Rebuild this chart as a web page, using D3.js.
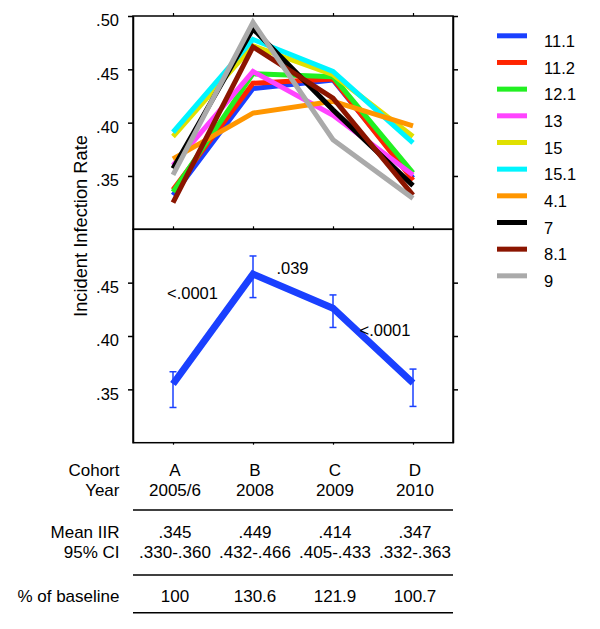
<!DOCTYPE html>
<html><head><meta charset="utf-8">
<script src="https://cdn.jsdelivr.net/npm/d3@7"></script>
<style>
body{margin:0;background:#fff;}
svg{font-family:"Liberation Sans",Arial,sans-serif;}
</style></head>
<body><svg id="c" width="600" height="629"></svg>
<script>
const cohorts = ["A","B","C","D"];
const years = ["2005/6","2008","2009","2010"];
const serotypes = ["11.1","11.2","12.1","13","15","15.1","4.1","7","8.1","9"];
const colors = ["#1a40ff","#ff2400","#22f022","#ff44ff","#e0e000","#00f5ff","#ff9600","#000000","#8b1500","#aaaaaa"];
const v11_1 = [0.332,0.432,0.440,0.348];
const v11_2 = [0.337,0.437,0.441,0.346];
const v12_1 = [0.335,0.446,0.443,0.353];
const v13   = [0.360,0.448,0.407,0.351];
const v15   = [0.387,0.472,0.445,0.387];
const v15_1 = [0.391,0.478,0.448,0.381];
const v4_1  = [0.366,0.409,0.420,0.397];
const v7    = [0.357,0.488,0.412,0.341];
const v8_1  = [0.325,0.471,0.423,0.332];
const v9    = [0.351,0.494,0.384,0.329];
const seriesValues = [v11_1,v11_2,v12_1,v13,v15,v15_1,v4_1,v7,v8_1,v9];
const meanIIR = [0.355,0.458,0.426,0.356];
const ciLow  = [0.333,0.436,0.408,0.334];
const ciHigh = [0.3665,0.475,0.4385,0.369];
const pLabels = ["<.0001",".039","<.0001"];
const topTicks = [0.35,0.40,0.45,0.50];
const botTicks = [0.35,0.40,0.45];
const meanText = [".345",".449",".414",".347"];
const ciText = [".330-.360",".432-.466",".405-.433",".332-.363"];
const pctText = ["100","130.6","121.9","100.7"];

const svg = d3.select("#c");
const X0 = 133, X1 = 453;
const x = d3.scalePoint().domain(cohorts).range([X0,X1]).padding(0.5);
const yT = d3.scaleLinear().domain([0.30,0.50]).range([229.3,16]);
const yB = d3.scaleLinear().domain([0.30,0.50]).range([442.7,229.3]);
const fmt = d => d3.format(".2f")(d).replace(/^0/,"");
const FS = 17;

function frame(y, ticks, top){
  const gl = svg.append("g").attr("transform",`translate(${X0},0)`)
    .call(d3.axisLeft(y).tickValues(ticks).tickSize(5).tickFormat(fmt).tickSizeOuter(0));
  gl.selectAll("text").attr("font-size",16.5).attr("font-family","Liberation Sans, Arial").attr("fill","#000").attr("dy","0.6em").attr("x",-14);
  const gr = svg.append("g").attr("transform",`translate(${X1},0)`)
    .call(d3.axisRight(y).tickValues(ticks).tickSize(5).tickFormat("").tickSizeOuter(0));
  [gl,gr].forEach(g=>{g.selectAll("line,path").attr("stroke","#000").attr("stroke-width",1.5);});
  const gt = svg.append("g").attr("transform",`translate(0,${top})`)
    .call(d3.axisTop(x).tickSize(3).tickFormat("").tickSizeOuter(0));
  gt.select("path").remove();
  gt.selectAll("line").attr("stroke","#000").attr("stroke-width",1.2);
  svg.append("rect").attr("x",X0).attr("y",y.range()[1]).attr("width",X1-X0)
    .attr("height",y.range()[0]-y.range()[1]).attr("fill","none").attr("stroke","#000").attr("stroke-width",1.5);
}
frame(yT, topTicks, 16);
frame(yB, botTicks, 229.3);
const gbx = svg.append("g").attr("transform",`translate(0,442.7)`)
  .call(d3.axisBottom(x).tickSize(2).tickFormat("").tickSizeOuter(0));
gbx.select("path").remove();
gbx.selectAll("line").attr("stroke","#000").attr("stroke-width",1.2);

// top panel lines
const lineT = d3.line().x((d,i)=>x(cohorts[i])).y(d=>yT(d));
seriesValues.forEach((vals,i)=>{
  svg.append("path").attr("d",lineT(vals)).attr("fill","none")
    .attr("stroke",colors[i]).attr("stroke-width",5);
});

// bottom panel
const lineB = d3.line().x((d,i)=>x(cohorts[i])).y(d=>yB(d));
const blue = "#1a40ff";
cohorts.forEach((c,i)=>{
  const cx = x(c);
  svg.append("line").attr("x1",cx).attr("x2",cx).attr("y1",yB(ciLow[i])).attr("y2",yB(ciHigh[i])).attr("stroke",blue).attr("stroke-width",1.5);
  [ciLow[i],ciHigh[i]].forEach(v=>{
    svg.append("line").attr("x1",cx-3.5).attr("x2",cx+3.5).attr("y1",yB(v)).attr("y2",yB(v)).attr("stroke",blue).attr("stroke-width",1.5);
  });
});
svg.append("path").attr("d",lineB(meanIIR)).attr("fill","none").attr("stroke",blue).attr("stroke-width",7);

const pPos = [[192.5,298.5],[292.5,274],[385,336]];
pLabels.forEach((t,i)=>{
  svg.append("text").attr("x",pPos[i][0]).attr("y",pPos[i][1]).attr("text-anchor","middle")
    .attr("font-size",16.5).text(t);
});

// y label
svg.append("text").attr("transform","translate(87,226) rotate(-90)").attr("text-anchor","middle")
  .attr("font-size",18.3).text("Incident Infection Rate");

// legend
serotypes.forEach((s,i)=>{
  const yy = 35.8 + 26.67*i;
  svg.append("line").attr("x1",497).attr("x2",527).attr("y1",yy).attr("y2",yy).attr("stroke",colors[i]).attr("stroke-width",5);
  svg.append("text").attr("x",544).attr("y",yy+11.3).attr("font-size",16.5).text(s);
});

// table
const lx = 119.5;
const rows = [
  {label:"Cohort", y:475.5, vals:cohorts},
  {label:"Year", y:495.5, vals:years},
  {label:"Mean IIR", y:538, vals:meanText},
  {label:"95% CI", y:558, vals:ciText},
  {label:"% of baseline", y:601.5, vals:pctText}
];
rows.forEach(r=>{
  svg.append("text").attr("x",lx).attr("y",r.y).attr("text-anchor","end").attr("font-size",FS).text(r.label);
  r.vals.forEach((v,i)=>{
    svg.append("text").attr("x",x(cohorts[i])+2).attr("y",r.y).attr("text-anchor","middle").attr("font-size",FS).text(v);
  });
});
[510,575,612.7].forEach(yy=>{
  svg.append("line").attr("x1",X0).attr("x2",X1).attr("y1",yy).attr("y2",yy).attr("stroke","#000").attr("stroke-width",1.5);
});
</script></body></html>
